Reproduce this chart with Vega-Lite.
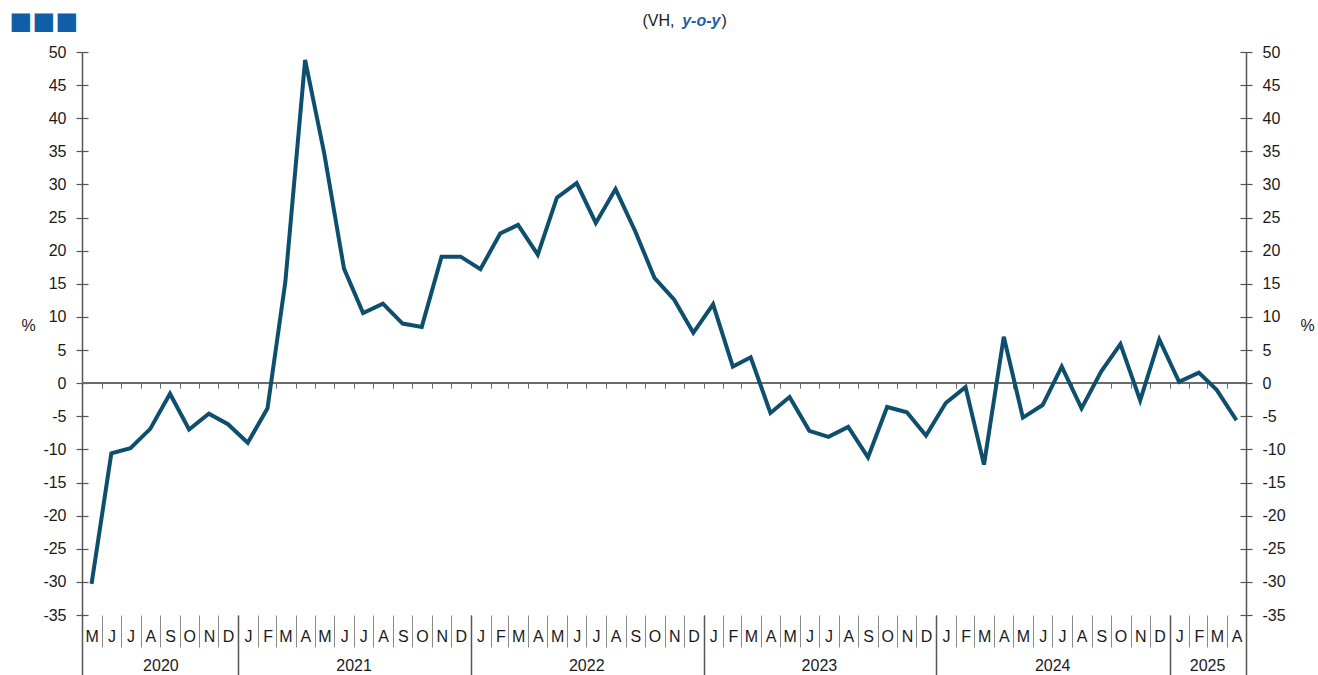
{
  "$schema": "https://vega.github.io/schema/vega-lite/v6.json",
  "width": 1164,
  "height": 563,
  "autosize": {"type": "none"},
  "padding": {"left": 82, "top": 52, "right": 72, "bottom": 60},
  "config": {
    "font": "Liberation Sans",
    "view": {"stroke": null},
    "axis": {"labelFont": "Liberation Sans", "titleFont": "Liberation Sans", "labelColor": "#1a1a1a", "titleColor": "#1a1a1a", "grid": false, "titleFontWeight": "normal"}
  },
  "data": {
    "values": [
      {"date": "2020-05-16", "value": -30.3},
      {"date": "2020-06-16", "value": -10.6},
      {"date": "2020-07-16", "value": -9.8},
      {"date": "2020-08-16", "value": -6.9},
      {"date": "2020-09-16", "value": -1.6},
      {"date": "2020-10-16", "value": -7.0},
      {"date": "2020-11-16", "value": -4.6},
      {"date": "2020-12-16", "value": -6.2},
      {"date": "2021-01-16", "value": -9.0},
      {"date": "2021-02-16", "value": -3.8},
      {"date": "2021-03-16", "value": 15.3},
      {"date": "2021-04-16", "value": 48.8},
      {"date": "2021-05-16", "value": 34.7},
      {"date": "2021-06-16", "value": 17.3},
      {"date": "2021-07-16", "value": 10.6},
      {"date": "2021-08-16", "value": 12.0},
      {"date": "2021-09-16", "value": 9.0},
      {"date": "2021-10-16", "value": 8.5},
      {"date": "2021-11-16", "value": 19.1},
      {"date": "2021-12-16", "value": 19.1},
      {"date": "2022-01-16", "value": 17.2},
      {"date": "2022-02-16", "value": 22.6},
      {"date": "2022-03-16", "value": 23.9},
      {"date": "2022-04-16", "value": 19.4},
      {"date": "2022-05-16", "value": 28.0},
      {"date": "2022-06-16", "value": 30.2},
      {"date": "2022-07-16", "value": 24.2},
      {"date": "2022-08-16", "value": 29.3},
      {"date": "2022-09-16", "value": 22.9},
      {"date": "2022-10-16", "value": 15.9},
      {"date": "2022-11-16", "value": 12.6},
      {"date": "2022-12-16", "value": 7.6},
      {"date": "2023-01-16", "value": 11.9},
      {"date": "2023-02-16", "value": 2.5},
      {"date": "2023-03-16", "value": 3.9},
      {"date": "2023-04-16", "value": -4.5},
      {"date": "2023-05-16", "value": -2.1},
      {"date": "2023-06-16", "value": -7.2},
      {"date": "2023-07-16", "value": -8.1},
      {"date": "2023-08-16", "value": -6.6},
      {"date": "2023-09-16", "value": -11.2},
      {"date": "2023-10-16", "value": -3.6},
      {"date": "2023-11-16", "value": -4.4},
      {"date": "2023-12-16", "value": -7.9},
      {"date": "2024-01-16", "value": -3.0},
      {"date": "2024-02-16", "value": -0.6},
      {"date": "2024-03-16", "value": -12.3},
      {"date": "2024-04-16", "value": 7.0},
      {"date": "2024-05-16", "value": -5.2},
      {"date": "2024-06-16", "value": -3.3},
      {"date": "2024-07-16", "value": 2.5},
      {"date": "2024-08-16", "value": -3.8},
      {"date": "2024-09-16", "value": 1.8},
      {"date": "2024-10-16", "value": 5.9},
      {"date": "2024-11-16", "value": -2.6},
      {"date": "2024-12-16", "value": 6.6},
      {"date": "2025-01-16", "value": 0.2},
      {"date": "2025-02-16", "value": 1.6},
      {"date": "2025-03-16", "value": -1.0},
      {"date": "2025-04-16", "value": -5.6}
    ]
  },
  "layer": [
    {
      "mark": {"type": "rule", "color": "#6b6b6b", "strokeWidth": 1.5},
      "encoding": {
        "y": {"datum": 0, "type": "quantitative", "scale": {"domain": [-35, 50], "nice": false, "zero": false}, "axis": null}
      }
    },
    {
      "mark": {"type": "line", "color": "#0e4f6e", "strokeWidth": 4},
      "encoding": {
        "x": {
          "field": "date", "type": "temporal",
          "scale": {"type": "utc", "nice": false, "domain": [{"year": 2020, "month": 5, "date": 1, "utc": true}, {"year": 2025, "month": 5, "date": 1, "utc": true}]},
          "axis": {
            "orient": "bottom", "tickCount": {"interval": "month", "step": 1}, "tickSize": 32, "tickColor": "#8a8a8a", "tickWidth": 1,
            "domain": false, "labelOffset": 9.7, "labelPadding": -19, "labelBaseline": "top", "labelAlign": "center",
            "labelFlush": false, "labelOverlap": false, "labelFontSize": 16, "title": null,
            "labelExpr": "datum.value >= utc(2025,4,1) ? '' : slice(utcFormat(datum.value, '%b'), 0, 1)"
          }
        },
        "y": {
          "field": "value", "type": "quantitative",
          "scale": {"domain": [-35, 50], "nice": false, "zero": false},
          "axis": {
            "orient": "left", "values": [-35, -30, -25, -20, -15, -10, -5, 0, 5, 10, 15, 20, 25, 30, 35, 40, 45, 50],
            "labelExpr": "datum.value < 0 ? '-' + abs(datum.value) : '' + datum.value",
            "tickSize": 6, "tickColor": "#555555", "tickWidth": 1.2, "domainColor": "#555555", "domainWidth": 1.5,
            "labelFontSize": 16, "labelPadding": 10,
            "title": "%", "titleAngle": 0, "titleFontSize": 16, "titleX": -54, "titleY": 273, "titleAlign": "center", "titleBaseline": "middle"
          }
        }
      }
    },
    {
      "mark": {"type": "point", "opacity": 0},
      "encoding": {
        "x": {
          "field": "date", "type": "temporal",
          "scale": {"type": "utc", "nice": false, "domain": [{"year": 2020, "month": 5, "date": 1, "utc": true}, {"year": 2025, "month": 5, "date": 1, "utc": true}]},
          "axis": {
            "orient": "bottom", "offset": -231.8, "tickCount": {"interval": "month", "step": 1}, "tickSize": 5, "tickColor": "#6b6b6b",
            "labels": false, "domain": false,
            "title": ")", "titleFontSize": 16, "titleX": 639, "titleY": -357.7, "titleAlign": "left", "titleBaseline": "alphabetic"
          }
        },
        "y": {
          "field": "value", "type": "quantitative",
          "scale": {"domain": [-35, 50], "nice": false, "zero": false},
          "axis": {
            "orient": "right", "values": [-35, -30, -25, -20, -15, -10, -5, 0, 5, 10, 15, 20, 25, 30, 35, 40, 45, 50],
            "labelExpr": "datum.value < 0 ? '-' + abs(datum.value) : '' + datum.value",
            "tickSize": 6, "tickColor": "#555555", "tickWidth": 1.2, "domainColor": "#555555", "domainWidth": 1.5,
            "labelFontSize": 16, "labelPadding": 10,
            "title": "%", "titleAngle": 0, "titleFontSize": 16, "titleX": 61, "titleY": 273, "titleAlign": "center", "titleBaseline": "middle"
          }
        }
      }
    },
    {
      "mark": {"type": "point", "opacity": 0},
      "encoding": {
        "x": {
          "field": "date", "type": "temporal",
          "scale": {"type": "utc", "nice": false, "domain": [{"year": 2020, "month": 5, "date": 1, "utc": true}, {"year": 2025, "month": 5, "date": 1, "utc": true}]},
          "axis": {
            "orient": "bottom",
            "values": [
              {"year": 2020, "month": 9, "date": 1, "utc": true},
              {"year": 2021, "month": 7, "date": 1, "utc": true},
              {"year": 2022, "month": 7, "date": 1, "utc": true},
              {"year": 2023, "month": 7, "date": 1, "utc": true},
              {"year": 2024, "month": 7, "date": 1, "utc": true},
              {"year": 2025, "month": 3, "date": 1, "utc": true}
            ],
            "ticks": false, "domain": false, "labelPadding": 42, "labelBaseline": "top", "labelFontSize": 16,
            "labelFlush": false, "labelOverlap": false, "labelExpr": "utcFormat(datum.value, '%Y')",
            "title": "(VH,", "titleFontSize": 16, "titleX": 560, "titleY": -589.5, "titleAlign": "left", "titleBaseline": "alphabetic"
          }
        },
        "y": {
          "field": "value", "type": "quantitative",
          "scale": {"domain": [-35, 50], "nice": false, "zero": false},
          "axis": {
            "orient": "left", "values": [-35, -30, -25, -20, -15, -10, -5, 0, 5, 10, 15, 20, 25, 30, 35, 40, 45, 50],
            "tickSize": -6, "tickColor": "#555555", "tickWidth": 1.2, "labels": false, "domain": false, "title": null
          }
        }
      }
    },
    {
      "mark": {"type": "point", "opacity": 0},
      "encoding": {
        "x": {
          "field": "date", "type": "temporal",
          "scale": {"type": "utc", "nice": false, "domain": [{"year": 2020, "month": 5, "date": 1, "utc": true}, {"year": 2025, "month": 5, "date": 1, "utc": true}]},
          "axis": {
            "orient": "bottom",
            "values": [
              {"year": 2020, "month": 5, "date": 1, "utc": true},
              {"year": 2021, "month": 1, "date": 1, "utc": true},
              {"year": 2022, "month": 1, "date": 1, "utc": true},
              {"year": 2023, "month": 1, "date": 1, "utc": true},
              {"year": 2024, "month": 1, "date": 1, "utc": true},
              {"year": 2025, "month": 1, "date": 1, "utc": true},
              {"year": 2025, "month": 5, "date": 1, "utc": true}
            ],
            "tickSize": 60, "tickColor": "#555555", "tickWidth": 1.5, "labels": false, "domain": false,
            "title": "y-o-y", "titleFontSize": 16, "titleFontWeight": "bold", "titleFontStyle": "italic", "titleColor": "#1d5fa8",
            "titleX": 599.7, "titleY": -589.5, "titleAlign": "left", "titleBaseline": "alphabetic"
          }
        },
        "y": {
          "field": "value", "type": "quantitative",
          "scale": {"domain": [-35, 50], "nice": false, "zero": false},
          "axis": {
            "orient": "right", "values": [-35, -30, -25, -20, -15, -10, -5, 0, 5, 10, 15, 20, 25, 30, 35, 40, 45, 50],
            "tickSize": -6, "tickColor": "#555555", "tickWidth": 1.2, "labels": false, "domain": false,
            "title": "■■■", "titleFontSize": 38, "titleColor": "#115ea8", "titleAngle": 0,
            "titleX": -1237, "titleY": -49, "titleAlign": "left", "titleBaseline": "top"
          }
        }
      }
    }
  ],
  "resolve": {"axis": {"x": "independent", "y": "independent"}}
}
